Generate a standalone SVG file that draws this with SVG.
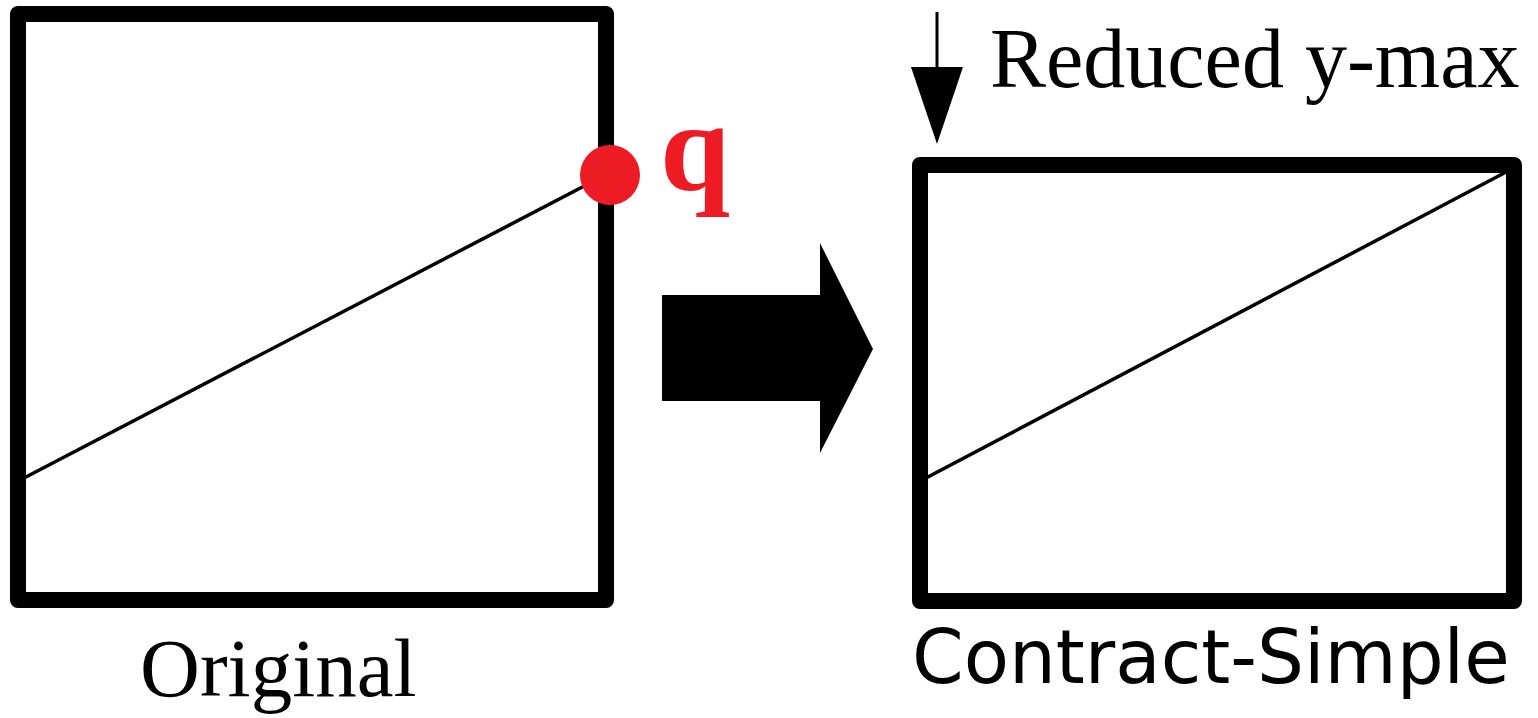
<svg xmlns="http://www.w3.org/2000/svg" width="1538" height="718" viewBox="0 0 1538 718">
  <style>
    .frame { fill: none; stroke: #000; stroke-width: 16; stroke-linejoin: round; }
    .seg { stroke: #000; stroke-width: 3.5; fill: none; }
    .serif { font-family: "Liberation Serif", "Times New Roman", serif; fill: #000; }
    .sans { font-family: "DejaVu Sans", "Liberation Sans", sans-serif; fill: #000; }
  </style>
  <rect width="1538" height="718" fill="#fff"/>

  <g id="original">
    <rect class="frame" x="18" y="14" width="588" height="586"/>
    <line class="seg" x1="24" y1="478" x2="590" y2="183"/>
    <circle cx="610" cy="175" r="30" fill="#ed1c24"/>
    <text x="660" y="190" class="serif" font-size="126" font-weight="bold" style="fill:#ed1c24">q</text>
    <text x="140" y="696" class="serif" font-size="83">Original</text>
  </g>

  <g id="contract-simple">
    <rect class="frame" x="920" y="165" width="594" height="436"/>
    <line class="seg" x1="926" y1="478" x2="1508" y2="171"/>
    <text x="912" y="683" class="sans" font-size="74">Contract-Simple</text>
  </g>

  <g id="reduced-ymax">
    <line x1="937" y1="12" x2="937" y2="72" stroke="#000" stroke-width="3"/>
    <polygon points="911,67 963,67 937,144" fill="#000"/>
    <text x="990" y="87" class="serif" font-size="84">Reduced y-max</text>
  </g>

  <g id="connectors">
    <polygon points="662,295 820,295 820,243 873,349 820,453 820,401 662,401" fill="#000"/>
  </g>
</svg>
